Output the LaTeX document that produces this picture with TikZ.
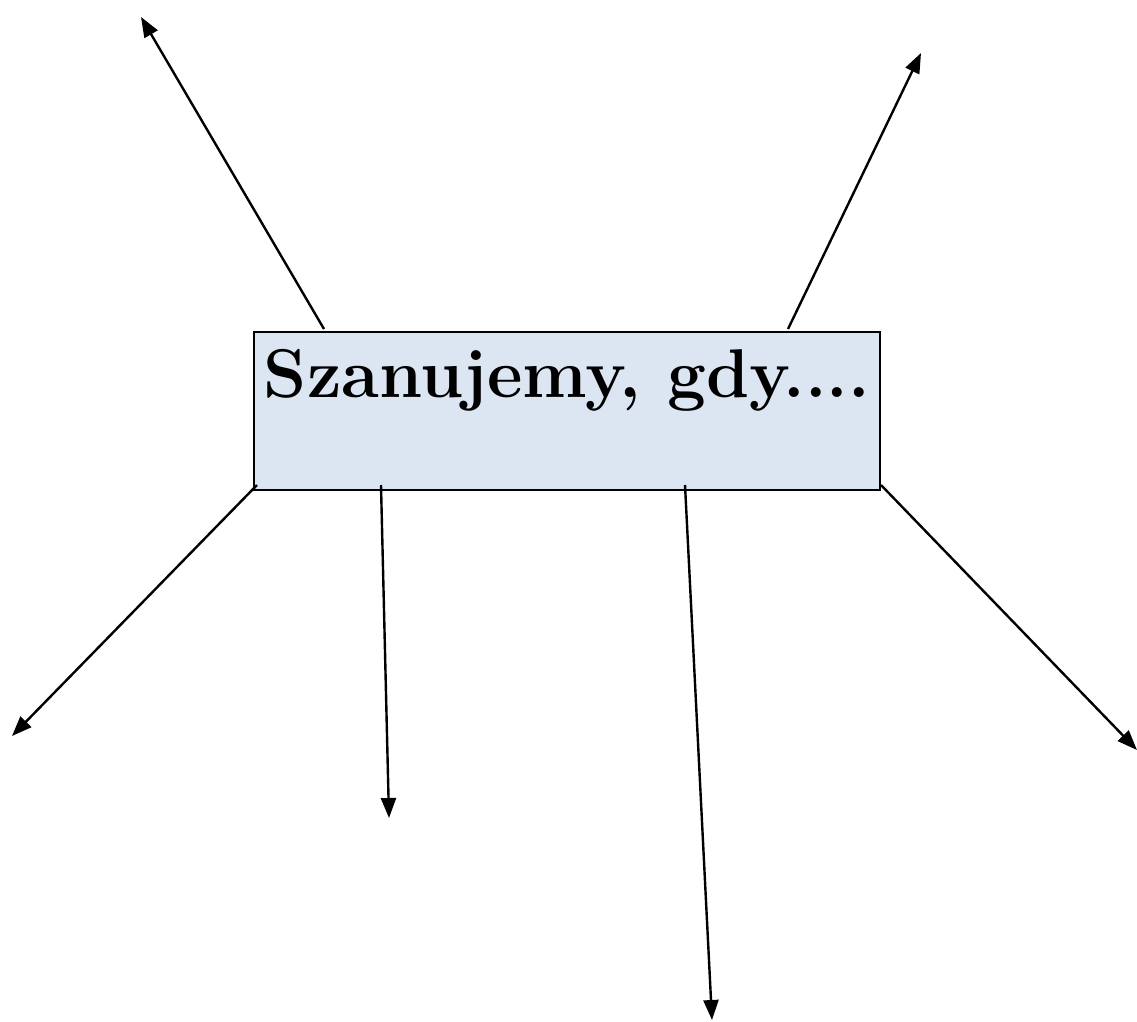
\documentclass[tikz,border=0pt]{standalone}
\usepackage{fontspec}
\usepackage{tikz}
\usetikzlibrary{arrows.meta}
\definecolor{boxblue}{RGB}{220,230,242}
\tikzstyle{box} = [draw=black, line width=2pt, fill=boxblue, inner sep=0pt, minimum width=626pt, text height=65pt, text depth=93pt, font={\fontsize{69}{82}\selectfont\bfseries}]
\tikzstyle{arr} = [line width=2.4pt, -{Triangle[length=20pt,width=15pt]}]

\begin{document}
\begin{tikzpicture}[x=1pt,y=-1pt]
    \useasboundingbox (0,0) rectangle (1137,1021);
    \node[box,anchor=base](box) at (567,397){Szanujemy, gdy....};
    \coordinate (e1) at (141,17);
    \coordinate (e2) at (921,53);
    \coordinate (e3) at (12,736);
    \coordinate (e4) at (389,818);
    \coordinate (e5) at (712,1020);
    \coordinate (e6) at (1137,750);
    \draw[arr]([xshift=71pt,yshift=2pt]box.north west)--(e1);
    \draw[arr]([xshift=535pt,yshift=2pt]box.north west)--(e2);
    \draw[arr]([xshift=4pt,yshift=6pt]box.south west)--(e3);
    \draw[arr]([xshift=128pt,yshift=6pt]box.south west)--(e4);
    \draw[arr]([xshift=432pt,yshift=6pt]box.south west)--(e5);
    \draw[arr]([yshift=6pt]box.south east)--(e6);
  \end{tikzpicture}
\end{document}
